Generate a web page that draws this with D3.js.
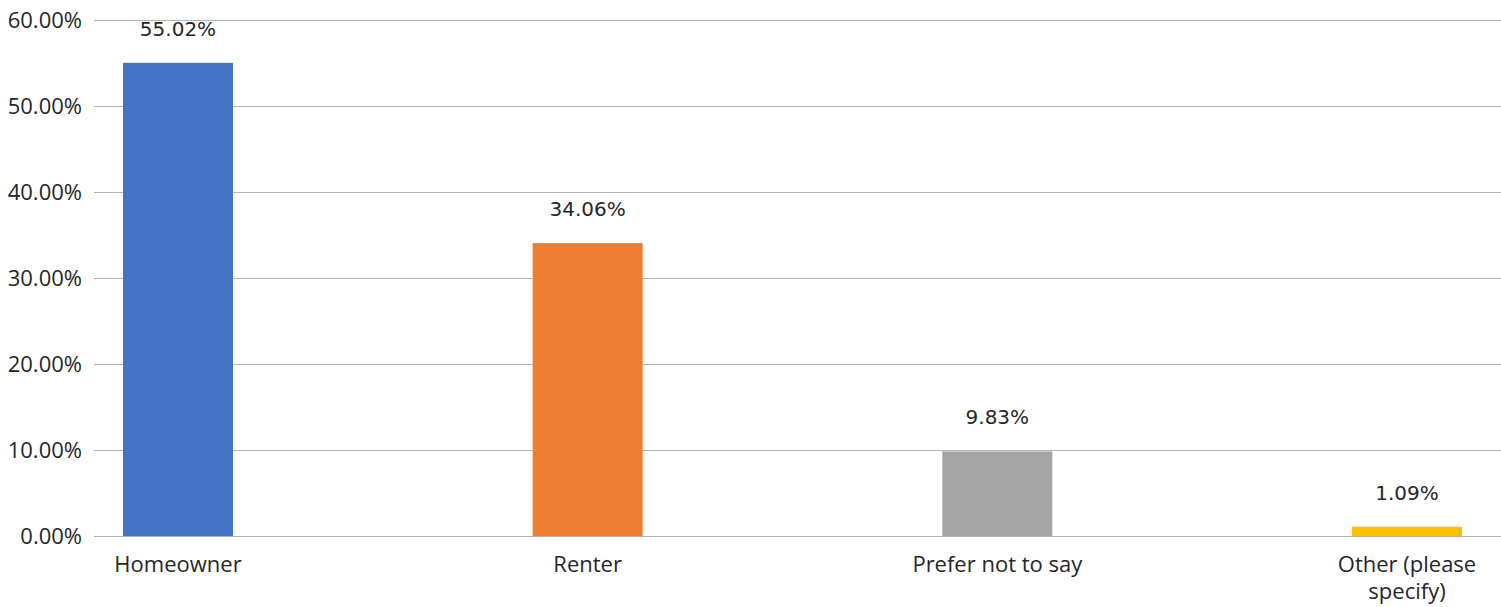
<!DOCTYPE html>
<html>
<head>
<meta charset="utf-8">
<script src="https://cdn.jsdelivr.net/npm/d3@7"></script>
<style>
  html, body { margin: 0; padding: 0; background: #fff; }
  svg { display: block; }
</style>
</head>
<body>
<svg id="chart" width="1501" height="607"></svg>
<script>
// Housing status of respondents
const categories = ["Homeowner", "Renter", "Prefer not to say", "Other (please specify)"];
const shares = [55.02, 34.06, 9.83, 1.09];
const barColors = ["#4472C4", "#ED7D31", "#A5A5A5", "#FFC000"];
const yTicks = [0, 10, 20, 30, 40, 50, 60];

const width = 1501, height = 607;
const plot = { left: 94, right: 1501, top: 20, bottom: 536 };
const firstCenter = 178, lastCenter = 1407, barWidth = 110;

const svg = d3.select("#chart");

const x = d3.scalePoint()
  .domain(categories)
  .range([firstCenter, lastCenter]);

const y = d3.scaleLinear()
  .domain([0, 60])
  .range([plot.bottom, plot.top]);

// Horizontal gridlines with percentage labels
const yAxis = d3.axisLeft(y)
  .tickValues(yTicks)
  .tickSize(-(plot.right - plot.left))
  .tickPadding(12)
  .tickFormat(d => d.toFixed(2) + "%");

const gy = svg.append("g")
  .attr("transform", `translate(${plot.left},0)`)
  .call(yAxis);
gy.select(".domain").remove();
gy.selectAll(".tick line").attr("stroke", "#b4b4b4").attr("stroke-width", 1.2);
gy.selectAll(".tick text")
  .attr("font-family", "'Open Sans', sans-serif")
  .attr("font-size", 22)
  .attr("fill", "#262626")
  .attr("dy", "0.34em");

// Bars
svg.append("g")
  .selectAll("rect")
  .data(categories)
  .join("rect")
  .attr("x", d => x(d) - barWidth / 2)
  .attr("width", barWidth)
  .attr("y", (d, i) => y(shares[i]))
  .attr("height", (d, i) => y(0) - y(shares[i]))
  .attr("fill", (d, i) => barColors[i]);

// Value labels above bars
svg.append("g")
  .selectAll("text")
  .data(categories)
  .join("text")
  .attr("x", d => x(d))
  .attr("y", (d, i) => y(shares[i]) - 27)
  .attr("text-anchor", "middle")
  .attr("font-family", "'DejaVu Sans', sans-serif")
  .attr("font-size", 20)
  .attr("fill", "#262626")
  .text((d, i) => shares[i].toFixed(2) + "%");

// Category labels, wrapped onto two lines when too long
const catLines = {
  "Other (please specify)": ["Other (please", "specify)"]
};
const gx = svg.append("g");
categories.forEach(c => {
  const lines = catLines[c] || [c];
  const t = gx.append("text")
    .attr("text-anchor", "middle")
    .attr("font-family", "'Open Sans', sans-serif")
    .attr("font-size", 22)
    .attr("fill", "#262626");
  lines.forEach((ln, k) => {
    t.append("tspan")
      .attr("x", x(c))
      .attr("y", plot.bottom + 36 + k * 27)
      .text(ln);
  });
});
</script>
</body>
</html>
